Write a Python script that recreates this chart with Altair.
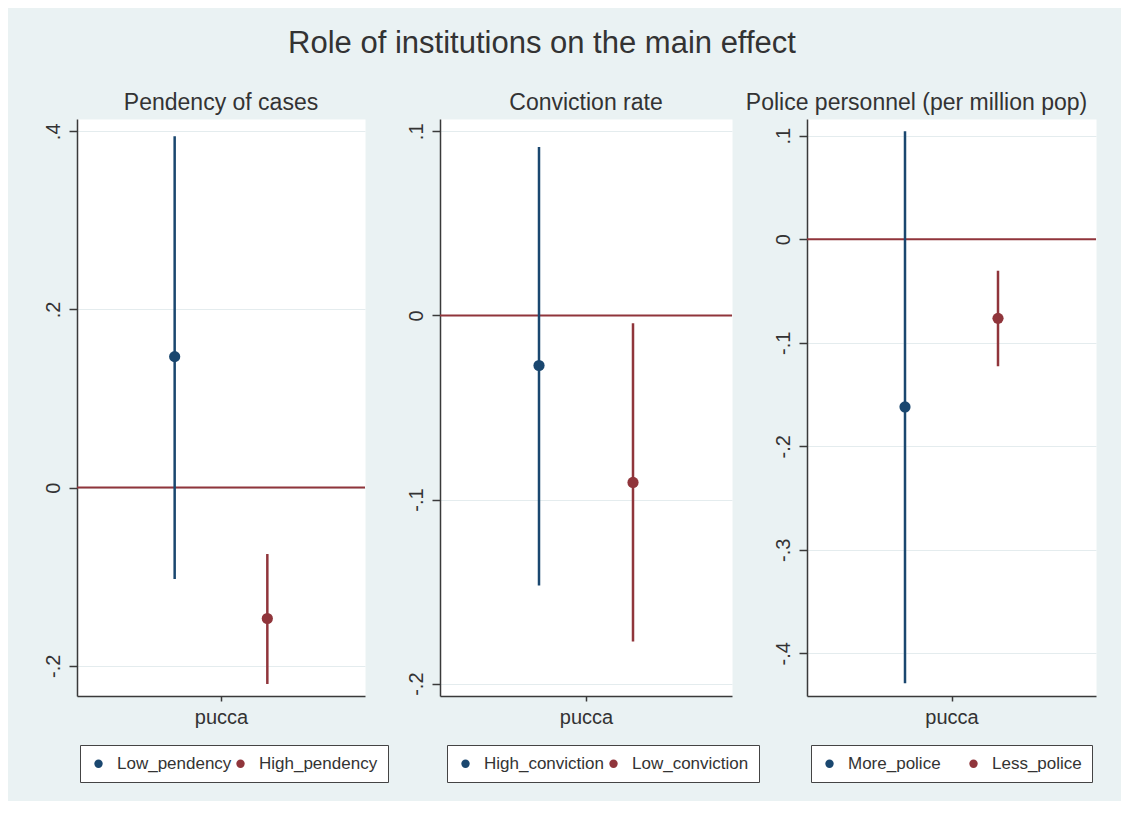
import altair as alt
import pandas as pd

main_title = "Role of institutions on the main effect"
panel_titles = ["Pendency of cases", "Conviction rate", "Police personnel (per million pop)"]
groups = [["Low_pendency", "High_pendency"],
          ["High_conviction", "Low_conviction"],
          ["More_police", "Less_police"]]
estimates = [[0.147, -0.147], [-0.0272, -0.0907], [-0.162, -0.0764]]
ci_low = [[-0.1026, -0.2205], [-0.1467, -0.1771], [-0.429, -0.1227]]
ci_high = [[0.3944, -0.0746], [0.0915, -0.0042], [0.1043, -0.0304]]
coef_label = "pucca"
coef_slots = [1, 2]
reference_value = [0]
y_ticks = [[0.4, 0.2, 0, -0.2],
           [0.1, 0, -0.1, -0.2],
           [0.1, 0, -0.1, -0.2, -0.3, -0.4]]
y_domains = [[-0.234, 0.4138], [-0.2067, 0.1067], [-0.4413, 0.1162]]

NAVY = "#1a476f"
MAROON = "#90353b"
BG = "#eaf2f3"
AXIS = "#3a3a3a"
TEXT = "#333333"
FONT = "Liberation Sans"

widths = [288, 292, 289]
legend_x = [3, 7, 4]
legend_colpad = [0, 0, 24]
title_dx = [0, 0, -35]

ylabel_expr = ("datum.value == 0 ? '0' : (datum.value < 0 ? '-' : '') + '.' + "
               "toString(round(abs(datum.value) * 10))")


def panel(i):
    df = pd.DataFrame({"group": groups[i], "x": coef_slots, "b": estimates[i],
                       "lo": ci_low[i], "hi": ci_high[i]})
    ref = pd.DataFrame({"b": reference_value})
    yscale = alt.Scale(domain=y_domains[i], nice=False, zero=False)
    xscale = alt.Scale(domain=[0, 3], nice=False, zero=False)
    cscale = alt.Scale(domain=groups[i], range=[NAVY, MAROON])
    yaxis = alt.Axis(values=y_ticks[i], labelExpr=ylabel_expr, title=None,
                     labelAngle=270, labelAlign="center", labelBaseline="alphabetic",
                     labelFontSize=20, labelPadding=10, tickSize=8, tickWidth=1.5,
                     tickColor=AXIS, domainColor=AXIS, domainWidth=1.5,
                     labelColor=TEXT, labelFont=FONT,
                     grid=True, gridColor="#e4ecee", gridWidth=1)
    xaxis = alt.Axis(values=[1.5], labelExpr="'" + coef_label + "'", title=None,
                     labelFontSize=20, labelPadding=6, tickSize=5, tickWidth=1.5,
                     tickColor=AXIS, domainColor=AXIS, domainWidth=1.5,
                     labelColor=TEXT, labelFont=FONT, grid=False)

    def legend():
        return alt.Legend(
            orient="none", legendX=legend_x[i], legendY=626, direction="horizontal",
            columns=2, title=None, labelFontSize=17, labelColor=TEXT, labelFont=FONT,
            symbolType="circle", symbolSize=70, symbolStrokeWidth=0,
            strokeColor="#444444", fillColor="white", padding=10, labelOffset=10,
            columnPadding=legend_colpad[i])

    zero = alt.Chart(ref).mark_rule(color=MAROON, strokeWidth=2).encode(
        y=alt.Y("b:Q", scale=yscale, axis=yaxis, title=None)
    )
    ci = alt.Chart(df).mark_bar(size=2.5).encode(
        x=alt.X("x:Q", scale=xscale, axis=xaxis, title=None),
        y=alt.Y("lo:Q", scale=yscale, title=None),
        y2="hi:Q",
        color=alt.Color("group:N", scale=cscale, legend=legend()),
    )
    pts = alt.Chart(df).mark_circle(size=125, opacity=1).encode(
        x=alt.X("x:Q", scale=xscale, title=None),
        y=alt.Y("b:Q", scale=yscale, title=None),
        color=alt.Color("group:N", scale=cscale, legend=legend()),
    )
    return alt.layer(zero, ci, pts).properties(
        width=widths[i], height=577,
        title=alt.TitleParams(panel_titles[i], fontSize=23, font=FONT, color=TEXT,
                              fontWeight="normal", anchor="middle", frame="group",
                              baseline="alphabetic", offset=-14, dx=title_dx[i]),
    )


chart = alt.hconcat(panel(0), panel(1), panel(2), spacing=75, bounds="flush").resolve_scale(
    color="independent", y="independent", x="independent"
).resolve_legend(color="independent").properties(
    title=alt.TitleParams(main_title, fontSize=31, font=FONT, color=TEXT,
                          fontWeight="normal", anchor="middle", frame="bounds",
                          baseline="alphabetic", offset=8, dx=-28),
    background=BG,
    padding={"left": 35, "top": 20, "right": 24, "bottom": 18},
).configure_view(fill="white", strokeOpacity=0)

chart.save("out.html", embed_options={"renderer": "svg", "actions": False})
